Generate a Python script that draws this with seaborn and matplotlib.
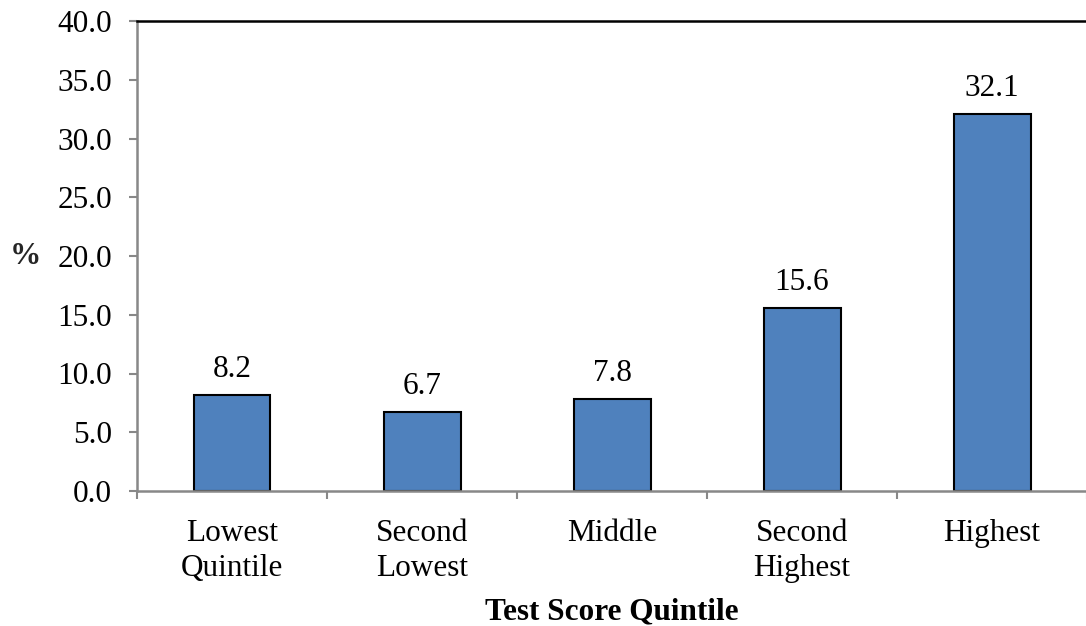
import matplotlib
matplotlib.use("Agg")
import matplotlib.pyplot as plt
import seaborn as sns
import pandas as pd
import numpy as np

categories = ["Lowest\nQuintile", "Second\nLowest", "Middle", "Second\nHighest", "Highest"]
values = [8.2, 6.7, 7.8, 15.6, 32.1]
y_ticks = [0, 5, 10, 15, 20, 25, 30, 35, 40]

sns.set_theme(style="white")
plt.rcParams["font.family"] = ["Liberation Serif", "DejaVu Serif"]

FS = 22.5

df = pd.DataFrame({"quintile": categories, "pct": values})

fig = plt.figure(figsize=(10.86, 6.26), dpi=100)
ax = fig.add_axes([137 / 1086, 1 - 491 / 626, 1 - 137 / 1086 + 0.001, (491 - 21) / 626])

sns.barplot(data=df, x="quintile", y="pct", color="#4F81BD", width=0.405,
            edgecolor="black", linewidth=1.5, saturation=1, ax=ax)

ax.set_ylim(0, 40)
ax.set_xlim(-0.5, len(categories) - 0.5)
ax.set_yticks(y_ticks)
ax.set_yticklabels([f"{v:.1f}" for v in y_ticks], fontsize=FS)
ax.set_xticks(range(len(categories)))
ax.set_xticklabels(categories, fontsize=FS, linespacing=1.3)
ax.set_xticks(np.arange(-0.5, len(categories), 1.0), minor=True)
ax.tick_params(axis="x", which="major", bottom=True, length=0, pad=20, labelcolor="black")
ax.tick_params(axis="x", which="minor", bottom=True, length=6, width=1.5,
               color="#888888", direction="out")
ax.tick_params(axis="y", which="major", left=True, length=6, width=1.5,
               color="#888888", direction="out", pad=12, labelcolor="black")

for side in ["left", "bottom"]:
    ax.spines[side].set_color("#888888")
    ax.spines[side].set_linewidth(1.8)
ax.spines["top"].set_color("black")
ax.spines["top"].set_linewidth(1.8)
ax.spines["right"].set_visible(False)

for i, v in enumerate(values):
    ax.annotate(f"{v:.1f}", (i, v), xytext=(0, 8), textcoords="offset points",
                ha="center", va="bottom", fontsize=FS, color="black")

ax.set_xlabel("Test Score Quintile", fontsize=FS, fontweight="bold", labelpad=10, color="black")
ax.set_ylabel("")
fig.text(25 / 1086, 1 - 257 / 626, "%", fontsize=FS, fontweight="bold", ha="center", va="center")

fig.savefig("out.png", dpi=100)
